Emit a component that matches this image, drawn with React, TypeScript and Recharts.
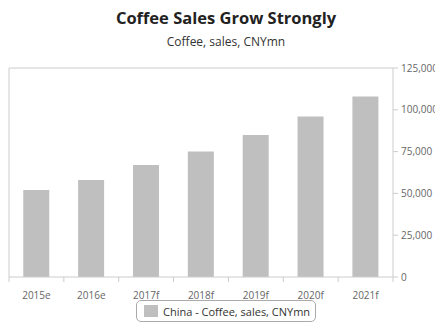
import React from "react";
import { BarChart, Bar, XAxis, YAxis } from "recharts";

const categories = ["2015e", "2016e", "2017f", "2018f", "2019f", "2020f", "2021f"];
const chinaCoffeeSales = [52000, 58000, 67000, 75000, 85000, 96000, 108000];
const yTicks = [0, 25000, 50000, 75000, 100000, 125000];
const seriesName = "China - Coffee, sales, CNYmn";

const data = categories.map((c, i) => ({ year: c, value: chinaCoffeeSales[i] }));

const AXIS = "#cccccc";
const FONT = "'Open Sans', sans-serif";

const XTick = (props: any) => {
  const { x, y, payload, index, visibleTicksCount } = props;
  const off = payload.offset || 0;
  const isLast = index === visibleTicksCount - 1;
  return (
    <g>
      <line x1={x - off} x2={x - off} y1={y} y2={y + 5} stroke={AXIS} />
      {isLast && <line x1={x + off} x2={x + off} y1={y} y2={y + 5} stroke={AXIS} />}
      <text x={x} y={y + 22} textAnchor="middle" fill="#666" fontSize={10} fontFamily={FONT}>
        {payload.value}
      </text>
    </g>
  );
};

export default function App() {
  return (
    <div style={{ position: "absolute", left: 0, top: 0, width: 435, height: 325, background: "#fff", fontFamily: FONT }}>
      <div style={{ position: "absolute", left: 0, top: 6, width: 452, textAlign: "center", fontSize: 16.5, fontWeight: 700, color: "#222" }}>
        Coffee Sales Grow Strongly
      </div>
      <div style={{ position: "absolute", left: 0, top: 33, width: 452, textAlign: "center", fontSize: 12, color: "#333" }}>
        Coffee, sales, CNYmn
      </div>
      <div style={{ position: "absolute", left: 0, top: 0 }}>
        <BarChart
          width={435}
          height={325}
          data={data}
          margin={{ top: 67, right: 0, left: 8, bottom: 28 }}
          barCategoryGap="26%"
        >
          <XAxis
            dataKey="year"
            axisLine={{ stroke: AXIS }}
            tickLine={false}
            tickSize={0}
            tickMargin={0}
            height={20}
            interval={0}
            tick={<XTick />}
          />
          <XAxis xAxisId="top" dataKey="year" orientation="top" height={1} tick={false} tickLine={false} axisLine={{ stroke: AXIS }} />
          <YAxis
            orientation="right"
            width={42}
            domain={[0, 125000]}
            ticks={yTicks}
            interval={0}
            tickFormatter={(v: number) => v.toLocaleString("en-US")}
            axisLine={{ stroke: AXIS }}
            tickLine={{ stroke: AXIS }}
            tickSize={5}
            tickMargin={3}
            tick={{ fill: "#666", fontSize: 10, fontFamily: FONT }}
          />
          <YAxis yAxisId="left" orientation="left" width={1} domain={[0, 125000]} tick={false} tickLine={false} axisLine={{ stroke: AXIS }} />
          <Bar dataKey="value" name={seriesName} fill="#bfbfbf" isAnimationActive={false} />
        </BarChart>
      </div>
      <div
        style={{
          position: "absolute",
          left: 136,
          top: 300,
          width: 180,
          height: 22,
          boxSizing: "border-box",
          border: "1px solid #aaa",
          borderRadius: 5,
          display: "flex",
          alignItems: "center",
          paddingLeft: 7,
          fontSize: 11,
          color: "#333",
          whiteSpace: "nowrap",
        }}
      >
        <span style={{ display: "inline-block", width: 14, height: 12, background: "#bfbfbf", marginRight: 5 }} />
        {seriesName}
      </div>
    </div>
  );
}
